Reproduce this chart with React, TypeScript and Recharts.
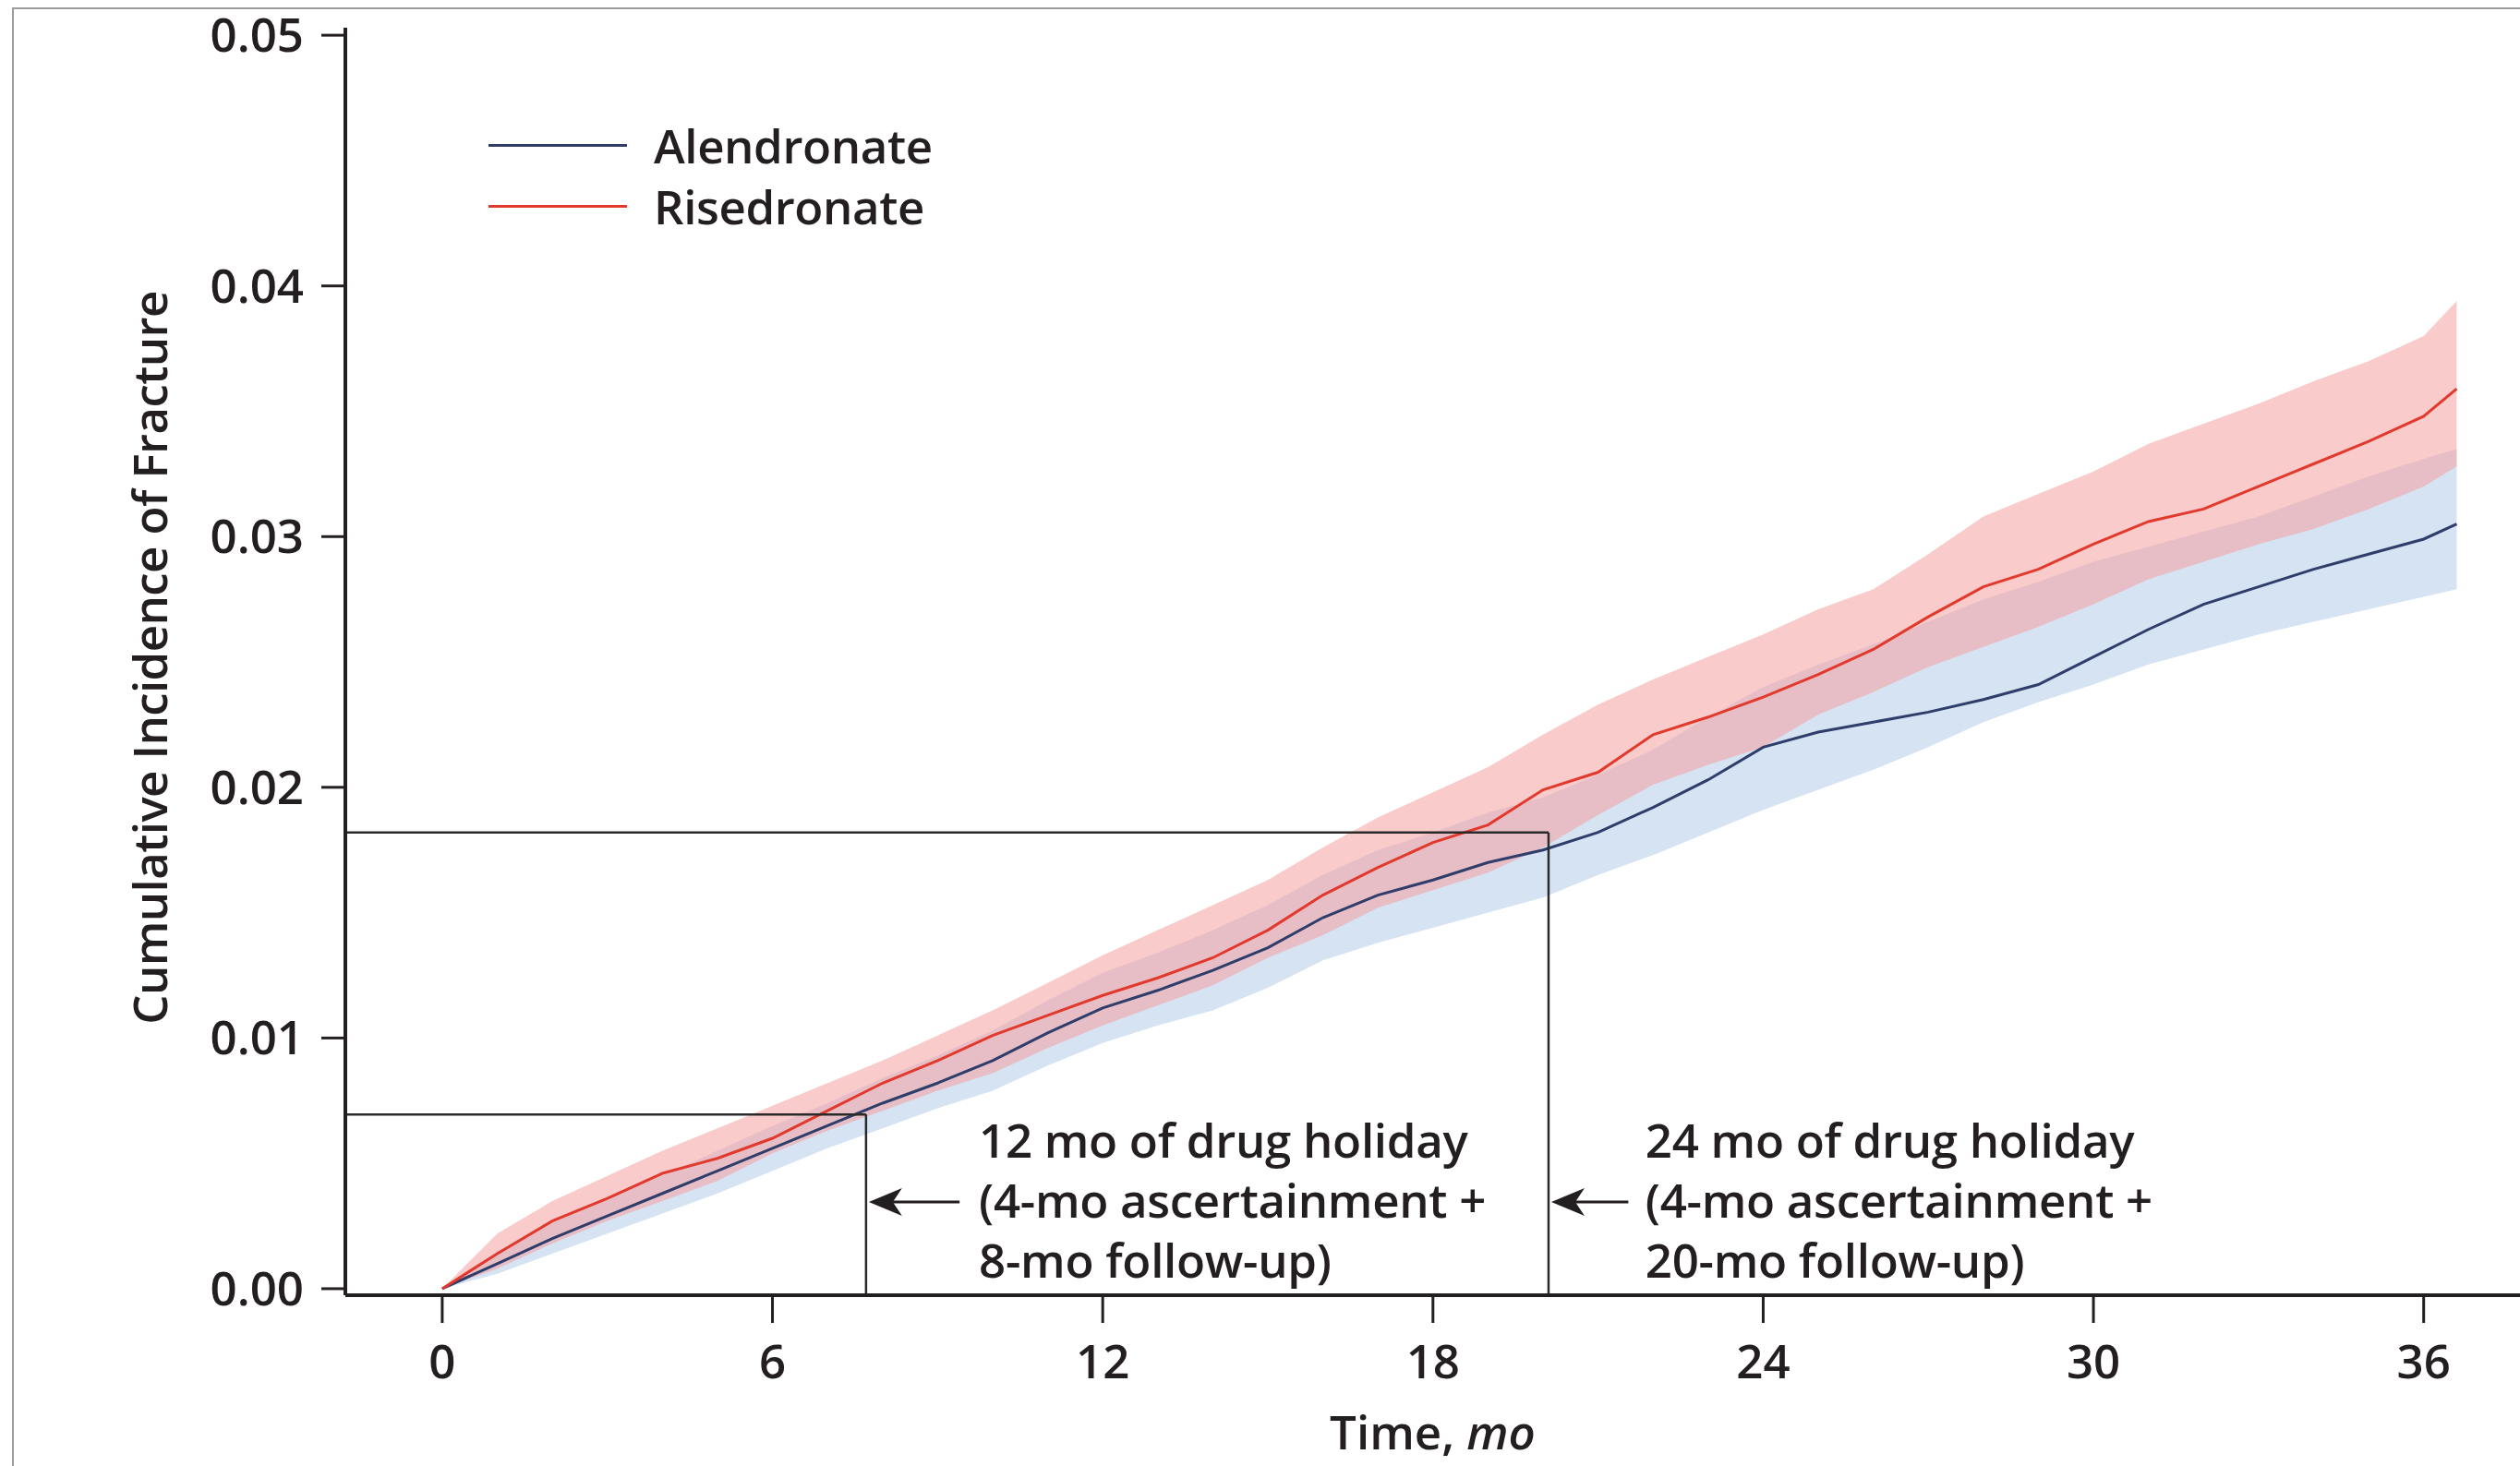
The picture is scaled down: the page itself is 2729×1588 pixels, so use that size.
import React from 'react';
import {
  ComposedChart,
  Area,
  Line,
  XAxis,
  YAxis,
  ReferenceLine,
  ReferenceDot,
  Legend,
  Label,
} from 'recharts';

// ---------- data ----------
const months = [
  0, 1, 2, 3, 4, 5, 6, 7, 8, 9, 10, 11, 12, 13, 14, 15, 16, 17, 18, 19, 20, 21, 22, 23, 24, 25, 26, 27, 28,
  29, 30, 31, 32, 33, 34, 35, 36, 36.6,
];

const alendronate = [
  0, 0.001, 0.002, 0.0029, 0.0038, 0.0047, 0.0056, 0.0065, 0.0074, 0.0082, 0.0091, 0.0102, 0.0112, 0.0119,
  0.0127, 0.0136, 0.0148, 0.0157, 0.0163, 0.017, 0.0175, 0.0182, 0.0192, 0.0203, 0.0216, 0.0222, 0.0226, 0.023,
  0.0235, 0.0241, 0.0252, 0.0263, 0.0273, 0.028, 0.0287, 0.0293, 0.0299, 0.0305,
];
const alendronateLower = [
  0, 0.0006, 0.0014, 0.0022, 0.003, 0.0038, 0.0047, 0.0056, 0.0064, 0.0072, 0.0079, 0.0089, 0.0098, 0.0105,
  0.0111, 0.012, 0.0131, 0.0138, 0.0144, 0.015, 0.0156, 0.0165, 0.0173, 0.0182, 0.0191, 0.0199, 0.0207, 0.0216,
  0.0226, 0.0234, 0.0241, 0.0249, 0.0255, 0.0261, 0.0266, 0.0271, 0.0276, 0.0279,
];
const alendronateUpper = [
  0, 0.0015, 0.0026, 0.0036, 0.0045, 0.0055, 0.0065, 0.0074, 0.0084, 0.0093, 0.0103, 0.0115, 0.0126, 0.0134,
  0.0143, 0.0153, 0.0165, 0.0175, 0.0182, 0.019, 0.0196, 0.0205, 0.0215, 0.0228, 0.024, 0.0249, 0.0257, 0.0266,
  0.0275, 0.0282, 0.029, 0.0296, 0.0302, 0.0308, 0.0316, 0.0324, 0.0331, 0.0335,
];

const risedronate = [
  0, 0.0014, 0.0027, 0.0036, 0.0046, 0.0052, 0.006, 0.0071, 0.0082, 0.0091, 0.0101, 0.0109, 0.0117, 0.0124,
  0.0132, 0.0143, 0.0157, 0.0168, 0.0178, 0.0185, 0.0199, 0.0206, 0.0221, 0.0228, 0.0236, 0.0245, 0.0255,
  0.0268, 0.028, 0.0287, 0.0297, 0.0306, 0.0311, 0.032, 0.0329, 0.0338, 0.0348, 0.0359,
];
const risedronateLower = [
  0, 0.0008, 0.0018, 0.0027, 0.0035, 0.0043, 0.0054, 0.0063, 0.0071, 0.0079, 0.0086, 0.0096, 0.0105, 0.0113,
  0.0121, 0.0132, 0.0141, 0.0152, 0.0159, 0.0166, 0.0176, 0.0189, 0.0201, 0.0209, 0.0216, 0.0229, 0.0238, 0.0248,
  0.0256, 0.0264, 0.0273, 0.0283, 0.029, 0.0297, 0.0303, 0.0311, 0.032, 0.0328,
];
const risedronateUpper = [
  0, 0.0022, 0.0035, 0.0045, 0.0055, 0.0064, 0.0073, 0.0082, 0.0091, 0.0101, 0.0111, 0.0122, 0.0133, 0.0143,
  0.0153, 0.0163, 0.0176, 0.0188, 0.0198, 0.0208, 0.0221, 0.0233, 0.0243, 0.0252, 0.0261, 0.0271, 0.0279, 0.0293,
  0.0308, 0.0317, 0.0326, 0.0337, 0.0345, 0.0353, 0.0362, 0.037, 0.038, 0.0394,
];

const xTicks = [0, 6, 12, 18, 24, 30, 36];
const yTicks = [0, 0.01, 0.02, 0.03, 0.04, 0.05];
const yTickLabels = ['0.00', '0.01', '0.02', '0.03', '0.04', '0.05'];

const seriesNames = ['Alendronate', 'Risedronate'];

// holiday cut-off boxes: month of the vertical line and incidence level of the horizontal line
const holidayMonths = [7.7, 20.1];
const holidayLevels = [0.00695, 0.0182];

const noteLines = [
  ['12 mo of drug holiday', '(4-mo ascertainment +', '8-mo follow-up)'],
  ['24 mo of drug holiday', '(4-mo ascertainment +', '20-mo follow-up)'],
];
const noteMonths = [9.75, 21.86];
const noteLevel = 0.00523;
const arrowLevel = 0.00346;
const arrowTailMonths = [9.4, 21.55];

// ---------- styling ----------
const X_MIN = -1.76;
const X_MAX = 37.75;
const Y_MIN = -0.00026;
const Y_MAX = 0.0503;
const FONT = "'Open Sans', 'DejaVu Sans', sans-serif";
const FS = 51;
const FW = 600;
const INK = '#231f20';
const BLUE = '#2f3d6b';
const RED = '#e2392d';
const BLUE_BAND = '#d5e3f2';
const RED_BAND = 'rgb(245,160,160)';

const data = months.map((t, i) => ({
  t,
  a: alendronate[i],
  aBand: [alendronateLower[i], alendronateUpper[i]],
  r: risedronate[i],
  rBand: [risedronateLower[i], risedronateUpper[i]],
}));

const LegendContent = () => (
  <div style={{ fontFamily: FONT, fontSize: FS, fontWeight: FW, color: INK, letterSpacing: -0.4 }}>
    {seriesNames.map((n, i) => (
      <div key={n} style={{ display: 'flex', alignItems: 'center', height: 66 }}>
        <div style={{ width: 150, height: 3, background: i === 0 ? BLUE : RED, marginRight: 29 }} />
        <span style={{ lineHeight: '66px' }}>{n}</span>
      </div>
    ))}
  </div>
);

const ArrowHead = (props: any) => {
  const { cx, cy } = props;
  const x = cx + 3;
  return (
    <path
      d={`M ${x} ${cy} L ${x + 36} ${cy - 15} L ${x + 26} ${cy} L ${x + 36} ${cy + 15} Z`}
      fill={INK}
      stroke="none"
    />
  );
};

const makeNote = (lines: string[]) => (props: any) => {
  const { cx, cy } = props;
  return (
    <text x={cx} y={cy} fontFamily={FONT} fontSize={FS} fontWeight={FW} fill={INK} letterSpacing={-0.3}>
      {lines.map((l, i) => (
        <tspan key={i} x={cx} dy={i === 0 ? 0 : 65}>
          {l}
        </tspan>
      ))}
    </text>
  );
};

const XLabel = (props: any) => {
  const vb = props.viewBox || {};
  const cx = vb.x + vb.width / 2;
  const y = vb.y + 167;
  return (
    <text x={cx} y={y} textAnchor="middle" fontFamily={FONT} fontSize={FS} fontWeight={FW} fill={INK}>
      Time, <tspan fontStyle="italic">mo</tspan>
    </text>
  );
};

const YLabel = (props: any) => {
  const vb = props.viewBox || {};
  const x = vb.x + 7;
  const y = vb.y + vb.height / 2 - 4;
  return (
    <text
      x={x}
      y={y}
      textAnchor="middle"
      transform={`rotate(-90, ${x}, ${y})`}
      fontFamily={FONT}
      fontSize={FS}
      fontWeight={FW}
      letterSpacing={-0.6}
      fill={INK}
    >
      Cumulative Incidence of Fracture
    </text>
  );
};

export default function App() {
  return (
    <div
      style={{
        position: 'absolute',
        left: 0,
        top: 0,
        width: 2729,
        height: 1588,
        background: '#ffffff',
        overflow: 'hidden',
      }}
    >
      <div
        style={{
          position: 'absolute',
          left: 13,
          top: 8,
          width: 2800,
          height: 1700,
          borderLeft: '2px solid #9c9c9c',
          borderTop: '2px solid #9c9c9c',
        }}
      />
      <div style={{ position: 'absolute', left: 0, top: 0 }}>
        <ComposedChart
          width={2729}
          height={1588}
          data={data}
          margin={{ top: 30, right: 0, bottom: 0, left: 174 }}
        >
          <XAxis
            type="number"
            dataKey="t"
            domain={[X_MIN, X_MAX]}
            ticks={xTicks}
            allowDataOverflow
            height={185}
            tickSize={30}
            tickMargin={24}
            tick={{ fontSize: FS, fontWeight: FW, fill: INK, fontFamily: FONT }}
            axisLine={{ stroke: INK, strokeWidth: 4 }}
            tickLine={{ stroke: INK, strokeWidth: 3 }}
          >
            <Label content={<XLabel />} />
          </XAxis>
          <YAxis
            type="number"
            domain={[Y_MIN, Y_MAX]}
            ticks={yTicks}
            allowDataOverflow
            width={200}
            tickSize={26}
            tickMargin={19}
            tickFormatter={(v: number) => yTickLabels[yTicks.indexOf(v)] ?? String(v)}
            tick={{ fontSize: FS, fontWeight: FW, fill: INK, fontFamily: FONT }}
            axisLine={{ stroke: INK, strokeWidth: 4 }}
            tickLine={{ stroke: INK, strokeWidth: 3 }}
          >
            <Label content={<YLabel />} />
          </YAxis>

          <Area
            dataKey="aBand"
            type="linear"
            stroke="none"
            fill={BLUE_BAND}
            fillOpacity={1}
            isAnimationActive={false}
            activeDot={false}
          />
          <Area
            dataKey="rBand"
            type="linear"
            stroke="none"
            fill={RED_BAND}
            fillOpacity={0.55}
            isAnimationActive={false}
            activeDot={false}
          />
          <Line
            dataKey="a"
            type="linear"
            stroke={BLUE}
            strokeWidth={3}
            dot={false}
            activeDot={false}
            isAnimationActive={false}
          />
          <Line
            dataKey="r"
            type="linear"
            stroke={RED}
            strokeWidth={3}
            dot={false}
            activeDot={false}
            isAnimationActive={false}
          />

          {holidayMonths.map((m, i) => (
            <ReferenceLine
              key={`h${i}`}
              segment={[
                { x: X_MIN, y: holidayLevels[i] },
                { x: m, y: holidayLevels[i] },
              ]}
              stroke="#2a2a2a"
              strokeWidth={2.5}
              ifOverflow="visible"
            />
          ))}
          {holidayMonths.map((m, i) => (
            <ReferenceLine
              key={`v${i}`}
              segment={[
                { x: m, y: Y_MIN },
                { x: m, y: holidayLevels[i] },
              ]}
              stroke="#2a2a2a"
              strokeWidth={2.5}
              ifOverflow="visible"
            />
          ))}
          {holidayMonths.map((m, i) => (
            <ReferenceLine
              key={`s${i}`}
              segment={[
                { x: m + 0.4, y: arrowLevel },
                { x: arrowTailMonths[i], y: arrowLevel },
              ]}
              stroke={INK}
              strokeWidth={3}
              ifOverflow="visible"
            />
          ))}
          {holidayMonths.map((m, i) => (
            <ReferenceDot key={`a${i}`} x={m} y={arrowLevel} r={1} shape={ArrowHead} ifOverflow="visible" />
          ))}
          {noteMonths.map((m, i) => (
            <ReferenceDot
              key={`n${i}`}
              x={m}
              y={noteLevel}
              r={1}
              shape={makeNote(noteLines[i])}
              ifOverflow="visible"
            />
          ))}

          <Legend
            layout="vertical"
            align="center"
            verticalAlign="middle"
            content={<LegendContent />}
            wrapperStyle={{ position: 'absolute', left: 529, top: 124, width: 'auto' }}
          />
        </ComposedChart>
      </div>
    </div>
  );
}
